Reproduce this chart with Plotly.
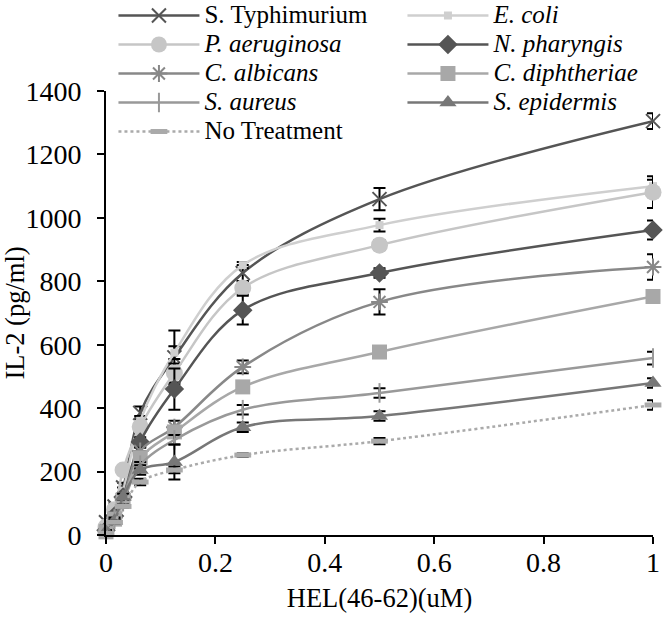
import plotly.graph_objects as go

x_vals = [0, 0.015625, 0.03125, 0.0625, 0.125, 0.25, 0.5, 1]

series_names = ["S. Typhimurium", "<i>E. coli</i>", "<i>P. aeruginosa</i>", "<i>N. pharyngis</i>",
                "<i>C. albicans</i>", "<i>C. diphtheriae</i>", "<i>S. aureus</i>", "<i>S. epidermis</i>",
                "No Treatment"]

s_typhimurium = [40, 90, 150, 385, 560, 826, 1059, 1305]
s_typhimurium_err = [10, 10, 15, 20, 85, 25, 35, 25]
e_coli = [20, 70, 140, 360, 575, 851, 977, 1100]
e_coli_err = [5, 10, 10, 15, 20, 10, 20, 20]
p_aeruginosa = [25, 80, 205, 341, 511, 779, 914, 1081]
p_aeruginosa_err = [5, 10, 10, 15, 30, 20, 15, 50]
n_pharyngis = [15, 60, 120, 293, 460, 709, 826, 962]
n_pharyngis_err = [5, 10, 10, 15, 65, 45, 15, 30]
c_albicans = [15, 55, 115, 265, 340, 530, 735, 845]
c_albicans_err = [5, 5, 10, 10, 20, 20, 40, 40]
c_diphtheriae = [10, 50, 110, 243, 325, 467, 577, 752]
c_diphtheriae_err = [5, 5, 10, 10, 15, 15, 10, 10]
s_aureus = [10, 50, 105, 220, 300, 395, 448, 558]
s_aureus_err = [5, 5, 10, 10, 15, 15, 15, 20]
s_epidermis = [10, 45, 120, 205, 230, 340, 375, 479]
s_epidermis_err = [5, 5, 10, 15, 55, 15, 15, 15]
no_treatment = [5, 40, 90, 167, 205, 252, 296, 410]
no_treatment_err = [5, 5, 5, 10, 10, 5, 10, 15]

values = [s_typhimurium, e_coli, p_aeruginosa, n_pharyngis, c_albicans,
          c_diphtheriae, s_aureus, s_epidermis, no_treatment]
errors = [s_typhimurium_err, e_coli_err, p_aeruginosa_err, n_pharyngis_err, c_albicans_err,
          c_diphtheriae_err, s_aureus_err, s_epidermis_err, no_treatment_err]

styles = [
    dict(color="#555555", symbol="x-thin", size=14, lw=2, dash="solid"),
    dict(color="#cfcfcf", symbol="square", size=8, lw=0, dash="solid"),
    dict(color="#c6c6c6", symbol="circle", size=17, lw=0, dash="solid"),
    dict(color="#555555", symbol="diamond", size=15, lw=0, dash="solid"),
    dict(color="#888888", symbol="asterisk", size=14, lw=2, dash="solid"),
    dict(color="#a8a8a8", symbol="square", size=15, lw=0, dash="solid"),
    dict(color="#999999", symbol="line-ns", size=14, lw=2, dash="solid"),
    dict(color="#777777", symbol="triangle-up", size=15, lw=0, dash="solid"),
    dict(color="#aaaaaa", symbol="line-ew", size=12, lw=5, dash="dot"),
]


def legend_label(name):
    return "<span style='font-size:25px'>" + name + "</span>"


fig = go.Figure()
for name, yv, ev, st in zip(series_names, values, errors, styles):
    fig.add_trace(go.Scatter(
        x=x_vals, y=yv, name=legend_label(name), mode="lines+markers",
        line=dict(color=st["color"], width=2.5, shape="spline", smoothing=1, dash=st["dash"]),
        marker=dict(symbol=st["symbol"], size=st["size"], color=st["color"],
                    line=dict(color=st["color"], width=st["lw"])),
        error_y=dict(type="data", array=ev, visible=True, color="black", thickness=2, width=6),
        cliponaxis=False,
    ))

fig.update_layout(
    width=667, height=628,
    paper_bgcolor="white", plot_bgcolor="white",
    margin=dict(l=106, r=14, t=91, b=93, autoexpand=False),
    font=dict(family="Liberation Serif", size=26, color="black"),
    showlegend=True,
    legend=dict(orientation="h", x=-0.001, y=1.232, xanchor="left", yanchor="top",
                entrywidth=193, entrywidthmode="pixels", itemwidth=81,
                borderwidth=8, bordercolor="rgba(0,0,0,0)",
                font=dict(size=20), bgcolor="rgba(0,0,0,0)", tracegroupgap=0),
    xaxis=dict(range=[0, 1], tickvals=[0, 0.2, 0.4, 0.6, 0.8, 1],
               ticktext=["0", "0.2", "0.4", "0.6", "0.8", "1"],
               showline=True, linecolor="black", linewidth=2,
               ticks="outside", ticklen=7, tickwidth=2, tickcolor="black",
               showgrid=False, zeroline=False, tickfont=dict(size=28), automargin=False,
               ticklabelstandoff=-6,
               title=dict(text="HEL(46-62)(uM)", font=dict(size=26.5), standoff=12)),
    yaxis=dict(range=[0, 1400], tickvals=[0, 200, 400, 600, 800, 1000, 1200, 1400],
               showline=True, linecolor="black", linewidth=2,
               ticks="outside", ticklen=7, tickwidth=2, tickcolor="black",
               showgrid=False, zeroline=False, tickfont=dict(size=28), automargin=False,
               ticklabelstandoff=10,
               title=dict(text="IL-2 (pg/ml)", font=dict(size=26.5), standoff=0)),
)

fig.write_html("out.html", config={"displayModeBar": False},
               post_script="document.body.style.margin='0';")
